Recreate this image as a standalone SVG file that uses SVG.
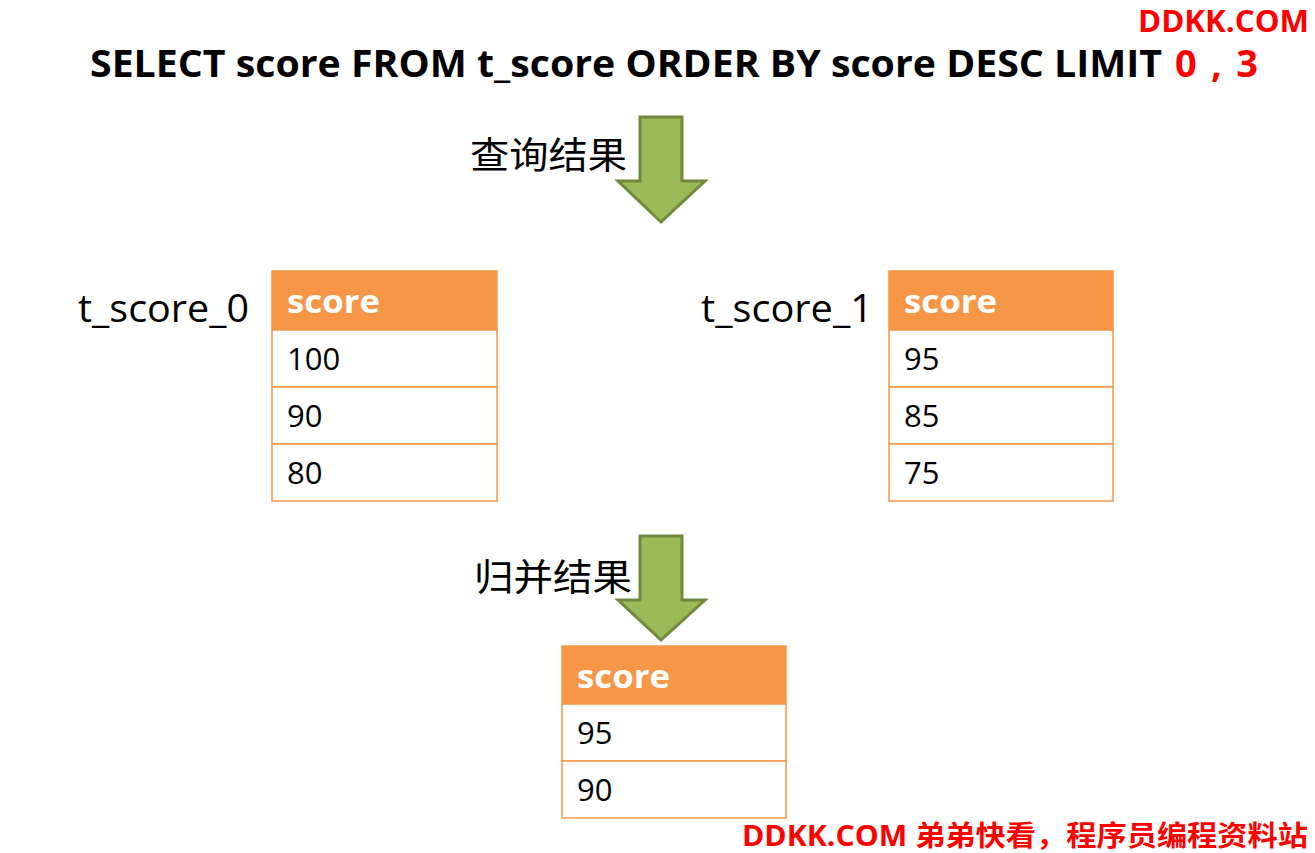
<svg xmlns="http://www.w3.org/2000/svg" width="1315" height="853" viewBox="0 0 1315 853">
<style>
  text { font-family: "Open Sans", "Noto Sans CJK SC", sans-serif; }
  .title { font-size: 38px; font-weight: bold; fill: #000; }
  .red { fill: #FF0000; font-weight: bold; }
  .hdr { fill: #F79646; stroke: #F79646; stroke-width: 1.5; }
  .cell { fill: #FFFFFF; stroke: #F79646; stroke-width: 1.5; }
  .hdrtxt { font-size: 33px; font-weight: bold; fill: #FFFFFF; }
  .celltxt { font-size: 31px; fill: #000; }
  .tname { font-size: 38px; fill: #000; }
  .cjk { font-family: "Noto Sans CJK SC", sans-serif; font-size: 37px; fill: #000; }
  .arrow { fill: #9BBB59; stroke: #71893F; stroke-width: 3; stroke-linejoin: miter; }
</style>
<rect width="1315" height="853" fill="#FFFFFF"/>

<g id="watermark-top">
  <text class="red" x="1138" y="32" font-size="30" textLength="171" lengthAdjust="spacingAndGlyphs">DDKK.COM</text>
</g>

<g id="title">
  <text class="title" x="90" y="77" textLength="1072" lengthAdjust="spacingAndGlyphs">SELECT score FROM t_score ORDER BY score DESC LIMIT</text>
  <text class="title red" x="1175" y="77" textLength="83" lengthAdjust="spacing">0 , 3</text>
</g>

<g id="connectors">
  <g id="arrow-query">
    <polygon class="arrow" points="640,117 682,117 682,181 705,181 661,222 618,181 640,181"/>
    <text class="cjk" x="470" y="169" textLength="157" lengthAdjust="spacingAndGlyphs">查询结果</text>
  </g>
  <g id="arrow-merge">
    <polygon class="arrow" points="640,536 682,536 682,600 705,600 661,640 618,600 640,600"/>
    <text class="cjk" x="474" y="591" textLength="158" lengthAdjust="spacingAndGlyphs">归并结果</text>
  </g>
</g>

<g id="t_score_0">
  <text class="tname" x="78" y="322" textLength="171" lengthAdjust="spacingAndGlyphs">t_score_0</text>
  <rect class="hdr" x="272" y="271" width="225" height="59"/>
  <rect class="cell" x="272" y="330" width="225" height="57"/>
  <rect class="cell" x="272" y="387" width="225" height="57"/>
  <rect class="cell" x="272" y="444" width="225" height="57"/>
  <text class="hdrtxt" x="287" y="313" textLength="93" lengthAdjust="spacingAndGlyphs">score</text>
  <text class="celltxt" x="287" y="370">100</text>
  <text class="celltxt" x="287" y="427">90</text>
  <text class="celltxt" x="287" y="484">80</text>
</g>

<g id="t_score_1">
  <text class="tname" x="701" y="322" textLength="172" lengthAdjust="spacingAndGlyphs">t_score_1</text>
  <rect class="hdr" x="889" y="271" width="224" height="59"/>
  <rect class="cell" x="889" y="330" width="224" height="57"/>
  <rect class="cell" x="889" y="387" width="224" height="57"/>
  <rect class="cell" x="889" y="444" width="224" height="57"/>
  <text class="hdrtxt" x="904" y="313" textLength="93" lengthAdjust="spacingAndGlyphs">score</text>
  <text class="celltxt" x="904" y="370">95</text>
  <text class="celltxt" x="904" y="427">85</text>
  <text class="celltxt" x="904" y="484">75</text>
</g>

<g id="result">
  <rect class="hdr" x="562" y="646" width="224" height="58"/>
  <rect class="cell" x="562" y="704" width="224" height="57"/>
  <rect class="cell" x="562" y="761" width="224" height="57"/>
  <text class="hdrtxt" x="577" y="688" textLength="93" lengthAdjust="spacingAndGlyphs">score</text>
  <text class="celltxt" x="577" y="744">95</text>
  <text class="celltxt" x="577" y="801">90</text>
</g>

<g id="watermark-bottom">
  <text class="red" x="742" y="846" font-size="28" textLength="566" lengthAdjust="spacingAndGlyphs">DDKK.COM 弟弟快看，程序员编程资料站</text>
</g>
</svg>
